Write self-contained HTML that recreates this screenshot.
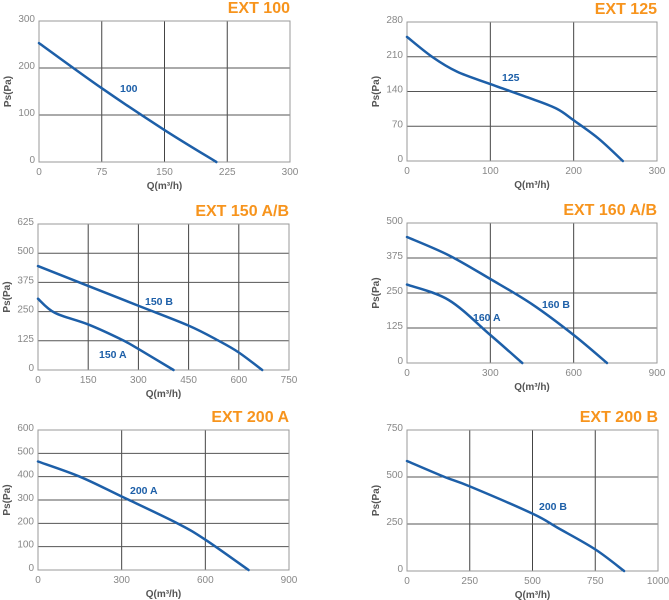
<!DOCTYPE html>
<html><head><meta charset="utf-8">
<style>
html,body{margin:0;padding:0;background:#fff;}
svg{display:block;font-family:"Liberation Sans",sans-serif;}
</style></head>
<body>
<svg id="root" width="669" height="600" viewBox="0 0 669 600" xmlns="http://www.w3.org/2000/svg"></svg>
<script>
// Chart data (Q in m3/h, Ps in Pa)
const titles = ["EXT 100","EXT 125","EXT 150 A/B","EXT 160 A/B","EXT 200 A","EXT 200 B"];
const xTicks100 = [0,75,150,225,300];
const yTicks100 = [0,100,200,300];
const xTicks125 = [0,100,200,300];
const yTicks125 = [0,70,140,210,280];
const xTicks150 = [0,150,300,450,600,750];
const yTicks150 = [0,125,250,375,500,625];
const xTicks160 = [0,300,600,900];
const yTicks160 = [0,125,250,375,500];
const xTicks200A = [0,300,600,900];
const yTicks200A = [0,100,200,300,400,500,600];
const xTicks200B = [0,250,500,750,1000];
const yTicks200B = [0,250,500,750];

const q100 = [0,75,150,212];            const ps100 = [253,157,68,0];
const q125 = [0,30,60,100,150,180,200,230,259]; const ps125 = [250,210,180,155,125,105,82,45,0];
const q150A = [0,50,150,250,300,405];   const ps150A = [305,245,195,130,90,0];
const q150B = [0,150,300,450,540,600,670]; const ps150B = [445,360,275,190,125,75,0];
const q160A = [0,150,300,415];          const ps160A = [280,225,100,0];
const q160B = [0,150,300,450,600,720];  const ps160B = [450,385,300,210,100,0];
const q200A = [0,150,300,500,600,755];  const ps200A = [465,400,315,200,130,0];
const q200B = [0,150,250,500,600,750,865]; const ps200B = [585,500,450,305,230,115,0];

const seriesLabels = ["100","125","150 A","150 B","160 A","160 B","200 A","200 B"];

const NS="http://www.w3.org/2000/svg";
const root=document.getElementById('root');
function mk(tag,attrs,parent){const e=document.createElementNS(NS,tag);for(const k in attrs)e.setAttribute(k,attrs[k]);(parent||root).appendChild(e);return e;}

const charts=[
 {box:[39,21,290,162],xt:xTicks100,yt:yTicks100,series:[[q100,ps100,0,[120,92]]]},
 {box:[407,22,657,161],xt:xTicks125,yt:yTicks125,series:[[q125,ps125,1,[502,81]]]},
 {box:[38,224,289,370],xt:xTicks150,yt:yTicks150,series:[[q150A,ps150A,2,[99,358]],[q150B,ps150B,3,[145,305]]]},
 {box:[407,223,657,363],xt:xTicks160,yt:yTicks160,series:[[q160A,ps160A,4,[473,321]],[q160B,ps160B,5,[542,308]]]},
 {box:[38,430,289,570],xt:xTicks200A,yt:yTicks200A,series:[[q200A,ps200A,6,[130,494]]]},
 {box:[407,430,658,571],xt:xTicks200B,yt:yTicks200B,series:[[q200B,ps200B,7,[539,510]]]}
];

charts.forEach((c,ci)=>{
 const [x0,y0,x1,y1]=c.box;
 const g=mk('g',{});
 
 
 const xmax=c.xt[c.xt.length-1], ymax=c.yt[c.yt.length-1];
 const sx=v=>x0+(v/xmax)*(x1-x0);
 const sy=v=>y1-(v/ymax)*(y1-y0);
 // gridlines
 c.xt.forEach((t,i)=>{
  if(i>0&&i<c.xt.length-1){const l=mk('line',{x1:sx(t),x2:sx(t),y1:y0,y2:y1,stroke:'#444','stroke-width':1},g);
  
  }
  const tx=mk('text',{x:sx(t),y:y1+13,'text-anchor':'middle','font-size':10,fill:'#888'},g);tx.textContent=t;
  
  
 });
 c.yt.forEach((t,i)=>{
  if(i>0&&i<c.yt.length-1){const l=mk('line',{x1:x0,x2:x1,y1:sy(t),y2:sy(t),stroke:'#555','stroke-width':1},g);
  
  }
  const tx=mk('text',{x:x0-4,y:sy(t)+1,'text-anchor':'end','font-size':10,fill:'#888'},g);tx.textContent=t;
  
  
 });
 const r=mk('rect',{x:x0,y:y0,width:x1-x0,height:y1-y0,fill:'none',stroke:'#999','stroke-width':1},g);
 
 
 // title
 const ti=mk('text',{x:x1,y:y0-8,'text-anchor':'end','font-size':16,'font-weight':'bold',fill:'#f7941d'},g);ti.textContent=titles[ci];
 
 
 // axis titles
 const xt=mk('text',{x:(x0+x1)/2,y:y1+27,'text-anchor':'middle','font-size':10,'font-weight':'bold',fill:'#555'},g);xt.textContent='Q(m³/h)';
 
 
 const yc=(y0+y1)/2;
 const yt=mk('text',{x:x0-28,y:yc,'text-anchor':'middle','font-size':10,'font-weight':'bold',fill:'#555',transform:`rotate(-90 ${x0-28} ${yc})`},g);yt.textContent='Ps(Pa)';
 
 
 // series
 c.series.forEach(([qs,ps,li,lp])=>{
  const pts=qs.map((q,i)=>[sx(q),sy(ps[i])]);
  let d='M'+pts[0][0]+','+pts[0][1];
  for(let i=0;i<pts.length-1;i++){
   const p0=pts[i-1]||pts[i],p1=pts[i],p2=pts[i+1],p3=pts[i+2]||p2;
   const c1=[p1[0]+(p2[0]-p0[0])/6,p1[1]+(p2[1]-p0[1])/6];
   const c2=[p2[0]-(p3[0]-p1[0])/6,p2[1]-(p3[1]-p1[1])/6];
   d+=` C${c1[0]},${c1[1]} ${c2[0]},${c2[1]} ${p2[0]},${p2[1]}`;
  }
  const p=mk('path',{d:d,fill:'none',stroke:'#1d5fa8','stroke-width':2.5,'stroke-linecap':'round'},g);
  
  
  const lb=mk('text',{x:lp[0],y:lp[1],'font-size':10.5,'font-weight':'bold',fill:'#1d5fa8'},g);lb.textContent=seriesLabels[li];
  
  
 });
});
</script>
</body></html>
